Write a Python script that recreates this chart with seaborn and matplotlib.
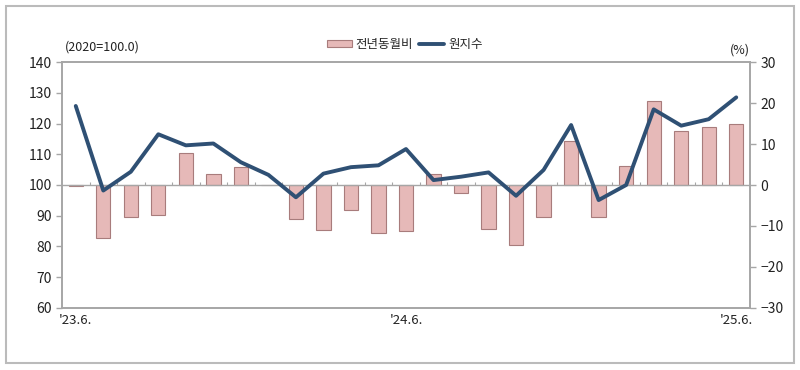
import numpy as np
import pandas as pd
import matplotlib
matplotlib.use("Agg")
import matplotlib.pyplot as plt
import seaborn as sns
from matplotlib.patches import Rectangle, Patch
from matplotlib.lines import Line2D

months = ["'23.6.", "'23.7.", "'23.8.", "'23.9.", "'23.10.", "'23.11.", "'23.12.",
          "'24.1.", "'24.2.", "'24.3.", "'24.4.", "'24.5.", "'24.6.", "'24.7.",
          "'24.8.", "'24.9.", "'24.10.", "'24.11.", "'24.12.", "'25.1.", "'25.2.",
          "'25.3.", "'25.4.", "'25.5.", "'25.6."]
yoy = [-0.2, -12.9, -7.7, -7.2, 7.7, 2.7, 4.3, 0.0, -8.4, -11.0, -6.0, -11.6, -11.2,
       2.8, -1.9, -10.7, -14.6, -7.8, 10.7, -7.8, 4.6, 20.5, 13.2, 14.1, 15.0]
index = [125.7, 98.2, 104.3, 116.5, 112.9, 113.5, 107.4, 103.3, 96.0, 103.7, 105.8,
         106.4, 111.7, 101.6, 102.7, 104.1, 96.5, 104.9, 119.5, 95.1, 100.0, 124.6,
         119.3, 121.4, 128.5]
shown_labels = {"'23.6.", "'24.6.", "'25.6."}

sns.set_theme(style="white")
plt.rcParams['font.family'] = ['Noto Sans CJK KR', 'DejaVu Sans']

df = pd.DataFrame({"month": months, "yoy": yoy, "index": index, "pos": np.arange(len(months))})

fig = plt.figure(figsize=(8, 3.7), dpi=100)
ax = fig.add_axes([0.0775, 0.1676, 0.86, 0.6648])
ax2 = ax.twinx()

grey = "#A6A6A6"
bar_fill = "#E6B9B8"
bar_edge = "#A87C7C"
line_col = "#2F5074"

sns.barplot(data=df, x="month", y="yoy", ax=ax2, color=bar_fill, width=0.52,
            edgecolor=bar_edge, linewidth=0.8, saturation=1)
ax2.axhline(0, color=grey, lw=1.0, zorder=1)
n = len(months)
ax2.vlines(np.arange(n - 1) + 0.5, 0, 0.7, color=grey, lw=0.8)

sns.lineplot(data=df, x="pos", y="index", ax=ax, color=line_col, lw=2.8)

ax.set_zorder(ax2.get_zorder() + 1)
ax.patch.set_visible(False)

for a in (ax, ax2):
    a.set_xlim(-0.5, n - 0.5)
    a.set_xlabel("")
    a.set_ylabel("")
    for s in a.spines.values():
        s.set_color(grey)
        s.set_linewidth(1.2)

ax.set_ylim(60, 140)
ax.set_yticks(np.arange(60, 141, 10))
ax2.set_ylim(-30, 30)
ax2.set_yticks(np.arange(-30, 31, 10))

ax.set_xticks(np.arange(n))
ax.set_xticklabels([m if m in shown_labels else "" for m in months])
ax.tick_params(axis='x', length=0, labelsize=9.5, labelcolor="#222222", pad=4)
for a in (ax, ax2):
    a.tick_params(axis='y', length=4, color=grey, direction='out', labelsize=10,
                  labelcolor="#222222", width=1)

fig.text(0.081, 0.872, "(2020=100.0)", fontsize=9, color="#222222", ha='left', va='center')
fig.text(0.925, 0.865, "(%)", fontsize=9, color="#222222", ha='center', va='center')

handles = [Patch(facecolor=bar_fill, edgecolor=bar_edge, lw=0.8),
           Line2D([0], [0], color=line_col, lw=2.8)]
fig.legend(handles, ["전년동월비", "원지수"], loc='center', bbox_to_anchor=(0.506, 0.88),
           ncol=2, frameon=False, fontsize=9, handlelength=2.0, handleheight=0.6,
           columnspacing=0.5, handletextpad=0.3)

fig.add_artist(Rectangle((0.007, 0.02), 0.986, 0.963, transform=fig.transFigure,
                         fill=False, edgecolor="#BBBBBB", lw=1.5))

fig.savefig("out.png", dpi=100)
